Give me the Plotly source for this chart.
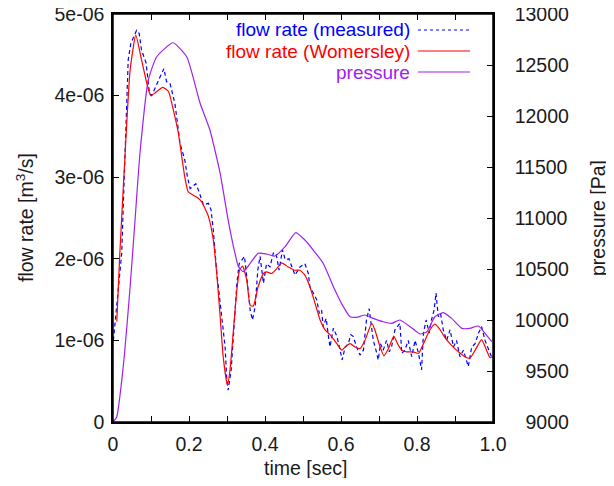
import plotly.graph_objects as go

# Womersley flow rate (red), units 1e-6 m^3/s
t_wom = [0.01, 0.018, 0.032, 0.045, 0.06, 0.075, 0.089, 0.099, 0.11, 0.131, 0.146, 0.159, 0.172, 0.181,
         0.189, 0.198, 0.211, 0.225, 0.233, 0.251, 0.264, 0.273, 0.282, 0.29, 0.301, 0.308, 0.317, 0.326,
         0.333, 0.341, 0.352, 0.361, 0.369, 0.382, 0.396, 0.404, 0.418, 0.431, 0.444, 0.461, 0.479, 0.492,
         0.505, 0.518, 0.532, 0.545, 0.558, 0.571, 0.589, 0.602, 0.611, 0.624, 0.637, 0.65, 0.663, 0.681,
         0.689, 0.703, 0.713, 0.725, 0.739, 0.751, 0.76, 0.773, 0.79, 0.804, 0.817, 0.834, 0.847, 0.861,
         0.874, 0.891, 0.909, 0.926, 0.939, 0.953, 0.97, 0.983, 0.992, 1.0]
q_wom = [1.23, 2.07, 3.30, 4.31, 4.74, 4.44, 4.15, 4.00, 4.03, 4.10, 4.05, 3.82, 3.54, 3.25,
         3.00, 2.82, 2.78, 2.74, 2.70, 2.52, 2.23, 1.82, 1.29, 0.80, 0.45, 0.64, 1.13, 1.62,
         1.86, 1.91, 1.74, 1.43, 1.42, 1.66, 1.82, 1.84, 1.82, 1.88, 1.95, 1.90, 1.86, 1.86,
         1.80, 1.66, 1.45, 1.25, 1.13, 1.07, 0.96, 0.88, 0.92, 0.96, 0.92, 0.90, 1.00, 1.21,
         1.13, 0.92, 0.81, 0.90, 1.05, 0.94, 0.88, 0.86, 0.86, 0.84, 0.96, 1.13, 1.20, 1.13,
         1.03, 0.94, 0.86, 0.80, 0.78, 0.88, 1.01, 0.88, 0.79, 0.80]

# Measured flow rate (blue, dashed), units 1e-6 m^3/s
t_meas = [0.001, 0.014, 0.023, 0.027, 0.032, 0.04, 0.047, 0.055, 0.062, 0.069, 0.075, 0.087, 0.096, 0.102,
          0.115, 0.124, 0.134, 0.141, 0.15, 0.163, 0.172, 0.176, 0.189, 0.196, 0.203, 0.218, 0.225, 0.229,
          0.238, 0.251, 0.258, 0.264, 0.273, 0.282, 0.288, 0.295, 0.299, 0.303, 0.311, 0.319, 0.326, 0.332,
          0.339, 0.346, 0.352, 0.361, 0.367, 0.374, 0.381, 0.387, 0.396, 0.404, 0.413, 0.422, 0.429, 0.437,
          0.446, 0.453, 0.463, 0.472, 0.479, 0.492, 0.505, 0.514, 0.518, 0.527, 0.536, 0.543, 0.549, 0.553,
          0.561, 0.567, 0.571, 0.58, 0.589, 0.596, 0.603, 0.611, 0.619, 0.626, 0.632, 0.641, 0.65, 0.659,
          0.667, 0.674, 0.679, 0.685, 0.692, 0.698, 0.704, 0.711, 0.72, 0.727, 0.733, 0.742, 0.755, 0.76,
          0.768, 0.777, 0.786, 0.795, 0.804, 0.812, 0.817, 0.824, 0.832, 0.838, 0.845, 0.85, 0.856, 0.862,
          0.869, 0.878, 0.887, 0.896, 0.904, 0.913, 0.922, 0.935, 0.944, 0.953, 0.962, 0.97, 0.979, 0.988,
          0.996]
q_meas = [1.00, 1.66, 2.07, 2.64, 3.30, 4.44, 4.64, 4.72, 4.80, 4.76, 4.56, 4.40, 4.03, 4.00,
          4.15, 4.23, 4.33, 4.17, 4.15, 3.90, 3.58, 3.42, 3.21, 3.00, 2.86, 2.92, 2.84, 2.78,
          2.66, 2.68, 2.60, 2.35, 1.83, 1.46, 1.21, 0.92, 0.56, 0.39, 0.64, 1.21, 1.70, 1.94,
          1.99, 2.03, 1.78, 1.37, 1.25, 1.41, 1.86, 2.03, 1.70, 1.94, 1.90, 2.07, 2.07, 1.86,
          2.11, 1.99, 2.00, 1.90, 1.80, 1.90, 1.94, 1.82, 1.66, 1.58, 1.50, 1.33, 1.37, 1.17,
          1.27, 1.05, 0.92, 1.15, 1.05, 0.92, 0.76, 0.92, 0.96, 1.07, 1.05, 0.92, 0.82, 0.88,
          1.25, 1.39, 1.21, 1.00, 0.88, 0.76, 0.96, 0.88, 1.00, 0.86, 0.92, 1.13, 1.21, 0.84,
          0.88, 1.00, 0.80, 1.00, 0.84, 0.64, 1.09, 1.25, 1.09, 1.25, 1.37, 1.58, 1.29, 1.33,
          1.13, 1.00, 1.13, 0.92, 1.00, 0.80, 0.88, 0.68, 0.92, 0.96, 1.09, 1.17, 1.00, 0.88,
          0.80]

# Pressure (purple), Pa
t_pres = [0.0, 0.0097, 0.026, 0.045, 0.058, 0.071, 0.093, 0.115, 0.158, 0.194, 0.229, 0.255, 0.282, 0.303,
          0.321, 0.33, 0.343, 0.361, 0.382, 0.404, 0.426, 0.453, 0.481, 0.505, 0.527, 0.553, 0.58, 0.606,
          0.624, 0.641, 0.663, 0.685, 0.711, 0.733, 0.755, 0.782, 0.808, 0.826, 0.847, 0.869, 0.891, 0.918,
          0.939, 0.962, 0.979, 0.997]
p_pres = [9000, 9049, 9510, 10324, 10980, 11637, 12353, 12581, 12718, 12581, 12127, 11863, 11438, 10980,
          10654, 10523, 10474, 10556, 10654, 10647, 10627, 10719, 10856, 10784, 10686, 10556, 10327, 10131,
          10032, 10026, 10049, 10016, 9983, 9967, 10000, 9934, 9863, 9885, 10032, 10072, 10016, 9918,
          9918, 9941, 9869, 9787]

x_tickvals = [0, 0.2, 0.4, 0.6, 0.8, 1.0]
x_ticktext = ["0", "0.2", "0.4", "0.6", "0.8", "1.0"]
y_tickvals = [0, 1e-6, 2e-6, 3e-6, 4e-6, 5e-6]
y_ticktext = ["0", "1e-06", "2e-06", "3e-06", "4e-06", "5e-06"]
y2_tickvals = [9000, 9500, 10000, 10500, 11000, 11500, 12000, 12500, 13000]
y2_ticktext = ["\u20079000", "\u20079500", "10000", "10500", "11000", "11500", "12000", "12500", "13000"]

legend_names = ["flow rate (measured)", "flow rate (Womersley)", "pressure"]
BLUE, RED, PURPLE = "#0000ff", "#ff0000", "#a020f0"
FONT = "Liberation Sans, Arial, sans-serif"
FS = 19.5
TXT = "#1a1a1a"

fig = go.Figure()
fig.add_trace(go.Scatter(x=t_meas, y=[v * 1e-6 for v in q_meas], mode="lines",
                         line=dict(color=BLUE, width=1.2, dash="4px,3px"), showlegend=False))
fig.add_trace(go.Scatter(x=t_wom, y=[v * 1e-6 for v in q_wom], mode="lines",
                         line=dict(color=RED, width=1.2, shape="spline", smoothing=0.5), showlegend=False))
fig.add_trace(go.Scatter(x=t_pres, y=p_pres, mode="lines", yaxis="y2",
                         line=dict(color=PURPLE, width=1.2, shape="spline", smoothing=0.5), showlegend=False))

# page body has an 8px margin: the figure is placed at (8, 8) in the window;
# keep the figure small enough that the page does not overflow the window
OFF = 8
W, H = 614 - 2 * OFF, 486 - 2 * OFF
# plot box in window pixels
PX0, PX1, PY0, PY1 = 113, 493, 14, 422
L, T = PX0 - OFF, PY0 - OFF
R, B = W - (PX1 - OFF), H - (PY1 - OFF)
plot_w, plot_h = PX1 - PX0, PY1 - PY0


def px_to_paper(xpx=None, ypx=None):
    out = []
    if xpx is not None:
        out.append((xpx - PX0) / plot_w)
    if ypx is not None:
        out.append((PY1 - ypx) / plot_h)
    return out[0] if len(out) == 1 else out


axis_common = dict(showgrid=False, zeroline=False, showline=True, linecolor="black", linewidth=1.5,
                   ticks="inside", ticklen=6, tickcolor="black", tickwidth=1, automargin=False,
                   ticklabeloverflow="allow",
                   tickfont=dict(family=FONT, size=FS, color=TXT))

fig.update_layout(
    width=W, height=H,
    margin=dict(l=L, r=R, t=T, b=B, pad=0, autoexpand=False),
    paper_bgcolor="white", plot_bgcolor="white",
    showlegend=False,
    xaxis=dict(range=[0, 1], tickvals=x_tickvals, ticktext=x_ticktext, mirror="ticks",
               minor=dict(dtick=0.1, tick0=0, ticks="inside", ticklen=6, tickcolor="black"),
               ticklabelstandoff=4, **axis_common),
    yaxis=dict(range=[0, 5e-6], tickvals=y_tickvals, ticktext=y_ticktext, mirror=False,
               ticklabelstandoff=3, **axis_common),
    yaxis2=dict(range=[9000, 13000], tickvals=y2_tickvals, ticktext=y2_ticktext, overlaying="y",
                side="right", ticklabelstandoff=16, **axis_common),
)

# plot frame (gnuplot border)
fig.add_shape(type="rect", xref="paper", yref="paper", x0=0, x1=1, y0=0, y1=1,
              line=dict(color="black", width=1.5), layer="above")

# axis titles
fig.add_annotation(text="time [sec]", x=px_to_paper(xpx=305), y=px_to_paper(ypx=468),
                   xref="paper", yref="paper", showarrow=False,
                   font=dict(family=FONT, size=FS, color=TXT), xanchor="center", yanchor="middle")
fig.add_annotation(text="flow rate [m<sup>3</sup>/s]", x=px_to_paper(xpx=25), y=0.5,
                   xref="paper", yref="paper", showarrow=False, textangle=-90,
                   font=dict(family=FONT, size=FS, color=TXT), xanchor="center", yanchor="middle")
fig.add_annotation(text="pressure [Pa]", x=px_to_paper(xpx=598), y=0.5,
                   xref="paper", yref="paper", showarrow=False, textangle=-90,
                   font=dict(family=FONT, size=FS, color=TXT), xanchor="center", yanchor="middle")

# legend (text, then line sample to its right, gnuplot style)
leg_rows_px = [30, 51, 72]
leg_colors = [BLUE, RED, PURPLE]
leg_dash = ["3px,3px", "solid", "solid"]
text_right_px = 412
line_x0_px, line_x1_px = 418, 470
for name, col, dsh, ypx in zip(legend_names, leg_colors, leg_dash, leg_rows_px):
    yp = px_to_paper(ypx=ypx)
    fig.add_annotation(text=name, x=px_to_paper(xpx=text_right_px), y=yp, xref="paper", yref="paper",
                       showarrow=False, xanchor="right", yanchor="middle",
                       font=dict(family=FONT, size=19, color=col))
    fig.add_shape(type="line", xref="paper", yref="paper",
                  x0=px_to_paper(xpx=line_x0_px), x1=px_to_paper(xpx=line_x1_px), y0=yp, y1=yp,
                  line=dict(color=col, width=1.2, dash=dsh))

fig.write_html("out.html")
